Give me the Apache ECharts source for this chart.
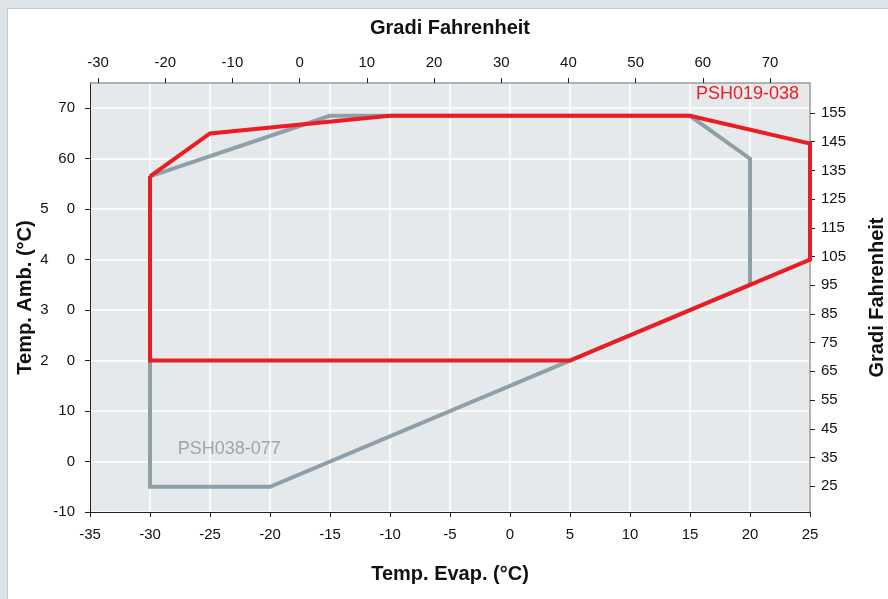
<!DOCTYPE html>
<html>
<head>
<meta charset="utf-8">
<script src="https://cdn.jsdelivr.net/npm/echarts@6/dist/echarts.min.js"></script>
<style>
  body { margin: 0; }
  #wrap { position: relative; width: 888px; height: 599px; background: #dce3e9; overflow: hidden; }
  #panel { position: absolute; left: 7px; top: 8px; right: 0; bottom: 0; background: #fff; border-left: 1px solid #c3cad0; border-top: 1px solid #c3cad0; }
  #chart { position: absolute; left: 0; top: 0; width: 888px; height: 599px; }
</style>
</head>
<body>
<div id="wrap">
  <div id="panel"></div>
  <div id="chart"></div>
</div>
<script>
// envelope PSH038-077 (grey)
var greyEvap = [-30, -15, 15, 20, 20, -20, -30, -30];
var greyAmb = [56.5, 68.5, 68.5, 60, 35, -5, -5, 56.5];
// envelope PSH019-038 (red)
var redEvap = [-30, -25, -10, 15, 25, 25, 5, -30, -30];
var redAmb = [56.5, 65, 68.5, 68.5, 63, 40, 20, 20, 56.5];

var ambTicks = [-10, 0, 10, 20, 30, 40, 50, 60, 70];
var topFTicks = [-30, -20, -10, 0, 10, 20, 30, 40, 50, 60, 70];
var rightFTicks = [25, 35, 45, 55, 65, 75, 85, 95, 105, 115, 125, 135, 145, 155];

var greyLabel = ['PSH038-077', -23.4, 2.4];
var redLabel = ['PSH019-038', 19.8, 72.9];

function pairs(xs, ys) {
    var out = [];
    for (var i = 0; i < xs.length; i++) {
        out.push([xs[i], ys[i]]);
    }
    return out;
}

var font = 'Liberation Sans, Arial, sans-serif';
var chart = echarts.init(document.getElementById('chart'), null, { renderer: 'canvas' });

var titleStyle = { fontSize: 20, fontWeight: 'bold', color: '#111', fontFamily: font };

var option = {
    animation: false,
    textStyle: { fontFamily: font },
    grid: {
        left: 90, right: 78, top: 83, bottom: 87,
        outerBoundsMode: 'none',
        containLabel: false,
        show: true,
        backgroundColor: '#e6e9ec',
        borderWidth: 0
    },
    xAxis: [
        {
            type: 'value',
            position: 'bottom',
            min: -35, max: 25, interval: 5,
            name: 'Temp. Evap. (°C)',
            nameLocation: 'middle',
            nameGap: 52,
            nameTextStyle: titleStyle,
            axisLine: { onZero: false, lineStyle: { color: '#222', width: 1 } },
            axisTick: { show: true, length: 5, lineStyle: { color: '#222' } },
            axisLabel: { fontSize: 15, color: '#111', margin: 15, fontFamily: font },
            splitLine: { show: true, lineStyle: { color: '#ffffff', width: 1.5 } }
        },
        {
            type: 'value',
            position: 'top',
            min: -31.2, max: 75.95,
            name: 'Gradi Fahrenheit',
            nameLocation: 'middle',
            nameGap: 45,
            nameTextStyle: titleStyle,
            axisLine: { onZero: false, lineStyle: { color: '#9a9a9a', width: 1.5 } },
            axisTick: { show: true, length: 5, customValues: topFTicks, lineStyle: { color: '#222' } },
            axisLabel: { fontSize: 15, color: '#111', margin: 13, customValues: topFTicks, fontFamily: font },
            splitLine: { show: false }
        }
    ],
    yAxis: [
        {
            type: 'value',
            position: 'left',
            min: -10, max: 75, interval: 5,
            name: 'Temp. Amb. (°C)',
            nameLocation: 'middle',
            nameRotate: 90,
            nameGap: 55,
            nameMoveOverlap: false,
            nameTextStyle: titleStyle,
            axisLine: { show: true, onZero: false, lineStyle: { color: '#222', width: 1 } },
            axisTick: { show: true, length: 5, customValues: ambTicks, lineStyle: { color: '#222' } },
            axisLabel: {
                fontSize: 15, color: '#111', margin: 15, fontFamily: font,
                customValues: ambTicks,
                formatter: function (v) {
                    if (v >= 20 && v <= 50) {
                        var s = String(v);
                        return '{a|' + s.charAt(0) + '}{b|' + s.charAt(1) + '}';
                    }
                    return String(v);
                },
                rich: {
                    a: { fontSize: 15, color: '#111', fontFamily: font, padding: [0, 18, 0, 0] },
                    b: { fontSize: 15, color: '#111', fontFamily: font }
                }
            },
            splitLine: { show: true, lineStyle: { color: '#ffffff', width: 1.5 } }
        },
        {
            type: 'value',
            position: 'right',
            min: 16.0, max: 165.45,
            name: 'Gradi Fahrenheit',
            nameLocation: 'middle',
            nameRotate: 90,
            nameGap: 57,
            nameTextStyle: titleStyle,
            axisLine: { show: true, onZero: false, lineStyle: { color: '#9a9a9a', width: 1.5 } },
            axisTick: { show: true, length: 5, customValues: rightFTicks, lineStyle: { color: '#222' } },
            axisLabel: { fontSize: 15, color: '#111', margin: 11, customValues: rightFTicks, fontFamily: font },
            splitLine: { show: false }
        }
    ],
    series: [
        {
            name: 'PSH038-077',
            type: 'line',
            xAxisIndex: 0, yAxisIndex: 0,
            data: pairs(greyEvap, greyAmb),
            showSymbol: false,
            symbol: 'none',
            lineStyle: { color: '#8e9fa9', width: 4, join: 'miter' },
            z: 2,
            markPoint: {
                symbol: 'circle', symbolSize: 1,
                itemStyle: { color: 'rgba(0,0,0,0)' },
                label: { show: true, position: 'inside', fontSize: 18, color: '#97a6af', fontFamily: font, formatter: greyLabel[0] },
                data: [{ coord: [greyLabel[1], greyLabel[2]] }]
            }
        },
        {
            name: 'PSH019-038',
            type: 'line',
            xAxisIndex: 0, yAxisIndex: 0,
            data: pairs(redEvap, redAmb),
            showSymbol: false,
            symbol: 'none',
            lineStyle: { color: '#ec1c24', width: 4, join: 'miter' },
            z: 3,
            markPoint: {
                symbol: 'circle', symbolSize: 1,
                itemStyle: { color: 'rgba(0,0,0,0)' },
                label: { show: true, position: 'inside', fontSize: 18, color: '#ec1c24', fontFamily: font, formatter: redLabel[0] },
                data: [{ coord: [redLabel[1], redLabel[2]] }]
            }
        }
    ]
};
chart.setOption(option);
</script>
</body>
</html>
